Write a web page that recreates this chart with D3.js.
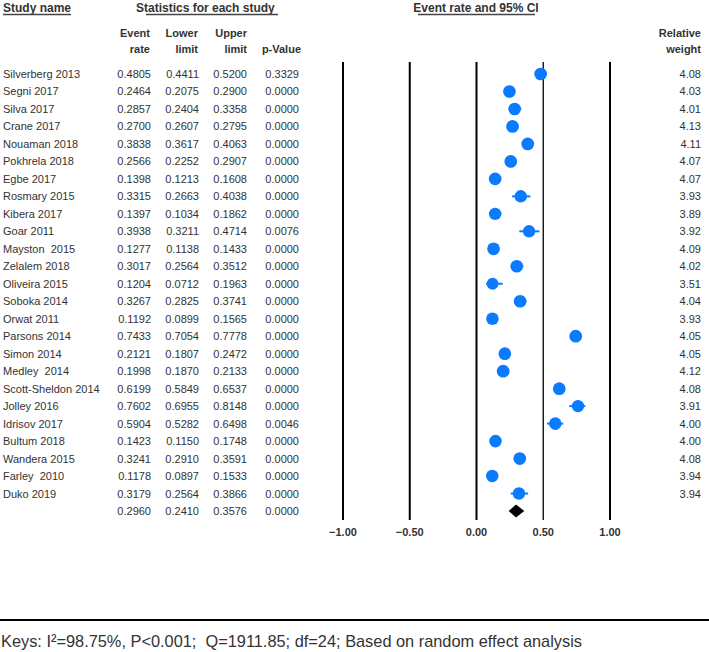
<!DOCTYPE html>
<html><head><meta charset="utf-8">
<script src="https://cdn.jsdelivr.net/npm/d3@7"></script>
<style>body{margin:0;background:#fff}svg{display:block}</style>
</head><body>
<script>
const studies = ["Silverberg 2013","Segni 2017","Silva 2017","Crane 2017","Nouaman 2018","Pokhrela 2018","Egbe 2017","Rosmary 2015","Kibera 2017","Goar 2011","Mayston  2015","Zelalem 2018","Oliveira 2015","Soboka 2014","Orwat 2011","Parsons 2014","Simon 2014","Medley  2014","Scott-Sheldon 2014","Jolley 2016","Idrisov 2017","Bultum 2018","Wandera 2015","Farley  2010","Duko 2019"];
const eventRate = [0.4805,0.2464,0.2857,0.2700,0.3838,0.2566,0.1398,0.3315,0.1397,0.3938,0.1277,0.3017,0.1204,0.3267,0.1192,0.7433,0.2121,0.1998,0.6199,0.7602,0.5904,0.1423,0.3241,0.1178,0.3179];
const lowerLimit = [0.4411,0.2075,0.2404,0.2607,0.3617,0.2252,0.1213,0.2663,0.1034,0.3211,0.1138,0.2564,0.0712,0.2825,0.0899,0.7054,0.1807,0.1870,0.5849,0.6955,0.5282,0.1150,0.2910,0.0897,0.2564];
const upperLimit = [0.5200,0.2900,0.3358,0.2795,0.4063,0.2907,0.1608,0.4038,0.1862,0.4714,0.1433,0.3512,0.1963,0.3741,0.1565,0.7778,0.2472,0.2133,0.6537,0.8148,0.6498,0.1748,0.3591,0.1533,0.3866];
const pValue = ["0.3329","0.0000","0.0000","0.0000","0.0000","0.0000","0.0000","0.0000","0.0000","0.0076","0.0000","0.0000","0.0000","0.0000","0.0000","0.0000","0.0000","0.0000","0.0000","0.0000","0.0046","0.0000","0.0000","0.0000","0.0000"];
const weight = ["4.08","4.03","4.01","4.13","4.11","4.07","4.07","3.93","3.89","3.92","4.09","4.02","3.51","4.04","3.93","4.05","4.05","4.12","4.08","3.91","4.00","4.00","4.08","3.94","3.94"];
const summary = {rate:0.2960, lower:0.2410, upper:0.3576, p:"0.0000"};
const ticks = [-1.00,-0.50,0.00,0.50,1.00];
const keysText = "Keys: I\u00b2=98.75%, P<0.001;  Q=1911.85; df=24; Based on random effect analysis";

const W=709,H=652;
const svg=d3.select("body").append("svg").attr("width",W).attr("height",H);
const font="Liberation Sans, Arial, sans-serif";
const txtCol="#333";

const x=d3.scaleLinear().domain([-1,1]).range([343,610]);
const rows=d3.range(studies.length+1);
const y=d3.scalePoint().domain(rows).range([74,511]);

// headers
const hdr=svg.append("g").attr("font-family",font).attr("font-weight","bold").attr("font-size",12).attr("fill",txtCol);
hdr.append("text").attr("x",3).attr("y",12).text("Study name");
hdr.append("text").attr("x",136).attr("y",12).text("Statistics for each study");
hdr.append("text").attr("x",476).attr("y",12).attr("text-anchor","middle").text("Event rate and 95% CI");
const ul=[[3,71],[146,278],[418,535]];
svg.selectAll(".ul").data(ul).join("line").attr("x1",d=>d[0]).attr("x2",d=>d[1]).attr("y1",14.5).attr("y2",14.5).attr("stroke","#444").attr("stroke-width",1.5);

const colHdr=[[150,"Event","rate"],[198,"Lower","limit"],[247,"Upper","limit"],[301,"","p-Value"],[701,"Relative","weight"]];
const ch=svg.append("g").attr("font-family",font).attr("font-weight","bold").attr("font-size",11).attr("fill",txtCol).attr("text-anchor","end");
colHdr.forEach(c=>{
  ch.append("text").attr("x",c[0]).attr("y",37).text(c[1]);
  ch.append("text").attr("x",c[0]).attr("y",53).text(c[2]);
});

// vertical lines
svg.selectAll(".vl").data(ticks).join("line").attr("x1",d=>x(d)).attr("x2",d=>x(d)).attr("y1",62).attr("y2",520)
  .attr("stroke","#000").attr("stroke-width",d=>d===0.5?1.3:2);
// tick labels
svg.selectAll(".tl").data(ticks).join("text").attr("x",d=>x(d)).attr("y",536).attr("text-anchor","middle")
  .attr("font-family",font).attr("font-weight","bold").attr("font-size",11).attr("fill",txtCol).text(d=>d3.format(".2f")(d));

// table rows
const tb=svg.append("g").attr("font-family",font).attr("font-size",11).attr("fill",txtCol);
const f4=d3.format(".4f");
studies.forEach((s,i)=>{
  const yy=y(i)+4;
  tb.append("text").attr("x",3).attr("y",yy).style("white-space","pre").text(s);
  tb.append("text").attr("x",151).attr("y",yy).attr("text-anchor","end").text(f4(eventRate[i]));
  tb.append("text").attr("x",199).attr("y",yy).attr("text-anchor","end").text(f4(lowerLimit[i]));
  tb.append("text").attr("x",247).attr("y",yy).attr("text-anchor","end").text(f4(upperLimit[i]));
  tb.append("text").attr("x",299).attr("y",yy).attr("text-anchor","end").text(pValue[i]);
  tb.append("text").attr("x",701).attr("y",yy).attr("text-anchor","end").text(weight[i]);
});
const sy=y(studies.length)+4;
tb.append("text").attr("x",151).attr("y",sy).attr("text-anchor","end").text(f4(summary.rate));
tb.append("text").attr("x",199).attr("y",sy).attr("text-anchor","end").text(f4(summary.lower));
tb.append("text").attr("x",247).attr("y",sy).attr("text-anchor","end").text(f4(summary.upper));
tb.append("text").attr("x",299).attr("y",sy).attr("text-anchor","end").text(summary.p);

// CI lines and markers
const blue="#0a7bff";
svg.selectAll(".ci").data(studies).join("line").attr("x1",(d,i)=>x(lowerLimit[i])).attr("x2",(d,i)=>x(upperLimit[i]))
  .attr("y1",(d,i)=>y(i)).attr("y2",(d,i)=>y(i)).attr("stroke",blue).attr("stroke-width",2);
const r=d3.scaleSqrt().domain([0,4.13]).range([0,6.4]);
svg.selectAll(".pt").data(studies).join("circle").attr("cx",(d,i)=>x(eventRate[i])).attr("cy",(d,i)=>y(i))
  .attr("r",(d,i)=>r(+weight[i])).attr("fill",blue);
// diamond
const dy=y(studies.length);
svg.append("path").attr("d",`M${x(summary.lower)},${dy}L${x(summary.rate)},${dy-6.5}L${x(summary.upper)},${dy}L${x(summary.rate)},${dy+6.5}Z`).attr("fill","#000");

// bottom rule and keys
svg.append("line").attr("x1",0).attr("x2",W).attr("y1",620).attr("y2",620).attr("stroke","#000").attr("stroke-width",2.2);
svg.append("text").attr("x",1).attr("y",647).attr("font-family",font).attr("font-size",17).attr("fill",txtCol)
  .attr("textLength",581).attr("lengthAdjust","spacingAndGlyphs").style("white-space","pre").text(keysText);
</script>
</body></html>
